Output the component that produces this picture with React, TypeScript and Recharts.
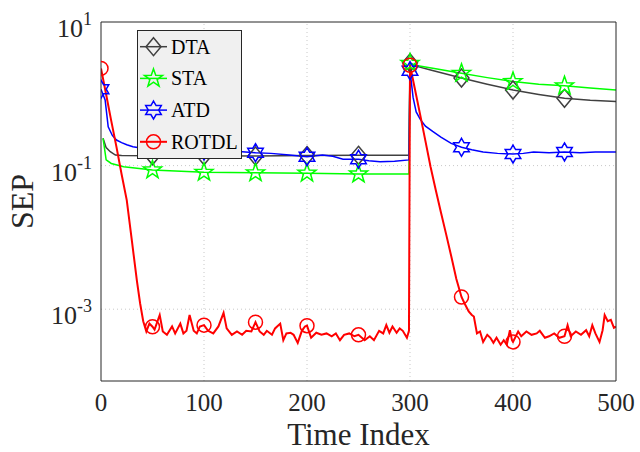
import React from 'react';
import { LineChart, Line, XAxis, YAxis, ReferenceLine, Legend } from 'recharts';

// [time index, SEP]
const dta: [number, number][] = [
  [2, 0.24], [5, 0.178], [9, 0.156], [14, 0.14], [20, 0.138], [50, 0.137], [100, 0.137],
  [150, 0.136], [200, 0.138], [250, 0.139], [299, 0.139],
  [300, 2.7], [305, 2.45], [320, 2.14], [350, 1.66], [375, 1.36], [400, 1.13], [425, 0.98],
  [450, 0.865], [475, 0.81], [500, 0.78],
];

const sta: [number, number][] = [
  [2, 0.24], [5, 0.12], [10, 0.107], [22, 0.0966], [50, 0.087], [100, 0.0807], [150, 0.0794],
  [200, 0.0785], [250, 0.0764], [299, 0.0764],
  [300, 2.66], [305, 2.5], [325, 2.24], [350, 1.93], [375, 1.68], [400, 1.48], [425, 1.36],
  [450, 1.29], [475, 1.2], [500, 1.13],
];

const atd: [number, number][] = [
  [0, 1.16], [4, 0.82], [7, 0.348], [11, 0.263], [15, 0.227], [20, 0.209], [25, 0.195],
  [31, 0.183], [40, 0.174], [50, 0.17], [60, 0.166], [80, 0.162], [100, 0.16], [120, 0.158],
  [137, 0.156], [150, 0.151], [165, 0.148], [183, 0.14], [200, 0.133], [215, 0.14],
  [225, 0.135], [235, 0.123], [250, 0.123], [260, 0.117], [271, 0.113], [285, 0.115],
  [299, 0.12],
  [300, 2.1], [303, 0.89], [306, 0.56], [310, 0.44], [315, 0.355], [322, 0.3], [330, 0.25],
  [340, 0.204], [350, 0.18], [360, 0.166], [371, 0.155], [385, 0.148], [400, 0.145],
  [410, 0.148], [420, 0.155], [435, 0.151], [450, 0.155], [465, 0.151], [480, 0.155],
  [500, 0.155],
];

const rotdl: [number, number][] = [
  [0, 2.26], [5, 0.977], [10, 0.417], [15, 0.182], [20, 0.0759], [25, 0.0331], [30, 0.00891],
  [35, 0.0024], [38, 0.0012], [41, 6.8e-4], [44, 4.9e-4], [47, 6.3e-4], [50, 5.7e-4],
  [52, 5.2e-4], [57, 8.3e-4], [60, 4.9e-4], [64, 4.4e-4], [69, 5.75e-4], [72, 4.6e-4],
  [77, 6.3e-4], [80, 4.6e-4], [83, 5.0e-4], [86, 8.3e-4], [90, 5.0e-4], [93, 4.6e-4],
  [96, 5.75e-4], [100, 6.0e-4], [104, 5.0e-4], [109, 4.6e-4], [114, 5.75e-4], [119, 8.9e-4],
  [122, 5.4e-4], [127, 4.4e-4], [132, 4.9e-4], [137, 4.4e-4], [141, 5.0e-4], [146, 4.9e-4],
  [150, 6.6e-4], [154, 4.9e-4], [158, 4.4e-4], [161, 5.0e-4], [166, 4.4e-4], [169, 5.4e-4],
  [174, 6.3e-4], [177, 3.7e-4], [180, 4.6e-4], [184, 4.7e-4], [187, 4.4e-4], [191, 3.4e-4],
  [195, 5.0e-4], [198, 5.75e-4], [200, 5.9e-4], [204, 4.0e-4], [209, 4.7e-4], [214, 4.4e-4],
  [219, 4.6e-4], [224, 4.2e-4], [228, 4.6e-4], [232, 3.7e-4], [236, 4.4e-4], [241, 4.6e-4],
  [246, 4.2e-4], [250, 4.4e-4], [256, 3.7e-4], [261, 4.2e-4], [265, 3.7e-4], [270, 5.0e-4],
  [274, 4.6e-4], [277, 6.0e-4], [280, 4.7e-4], [283, 5.75e-4], [287, 4.7e-4], [290, 5.4e-4],
  [293, 5.0e-4], [297, 4.0e-4], [299, 5.0e-4],
  [300, 2.5], [305, 1.12], [310, 0.5], [315, 0.219], [320, 0.0955], [325, 0.0457],
  [330, 0.0224], [335, 0.0112], [340, 0.0055], [345, 0.00263], [350, 0.00148], [353, 0.0012],
  [357, 9.3e-4], [360, 8.3e-4], [362, 7.9e-4], [365, 4.6e-4], [368, 4.9e-4], [371, 3.5e-4],
  [375, 4.4e-4], [378, 4.0e-4], [381, 3.4e-4], [384, 4.0e-4], [388, 3.2e-4], [391, 3.7e-4],
  [394, 3.2e-4], [397, 5.1e-4], [399, 3.7e-4], [400, 3.5e-4], [405, 4.9e-4], [408, 4.2e-4],
  [413, 4.9e-4], [418, 4.4e-4], [423, 4.6e-4], [426, 5.0e-4], [431, 4.0e-4], [435, 4.2e-4],
  [440, 4.6e-4], [445, 4.0e-4], [450, 4.2e-4], [453, 6.0e-4], [456, 4.2e-4], [461, 4.9e-4],
  [466, 4.4e-4], [471, 5.1e-4], [474, 4.2e-4], [477, 6.0e-4], [480, 4.6e-4], [484, 3.5e-4],
  [487, 5.1e-4], [489, 8.3e-4], [492, 6.8e-4], [495, 7.1e-4], [498, 5.5e-4], [500, 5.7e-4],
];

const xTicks = [0, 100, 200, 300, 400, 500];
const xGrid = [100, 200, 300, 400];
const yLabelTicks = [10, 0.1, 0.001];
const yGrid = [0.1, 0.001];
const decades = [1e-4, 1e-3, 1e-2, 1e-1, 1];
const yAllTicks = [...decades.flatMap((d) => [1, 2, 3, 4, 5, 6, 7, 8, 9].map((k) => k * d)), 10];

const AXIS = '#262626';
const SERIF = "'Liberation Serif', 'Times New Roman', serif";
// no courier-like face is available, a serif face comes closest to the typewriter legend
const LEGEND_FONT = "'Liberation Serif', serif";

type Shape = 'diamond' | 'pentagram' | 'hexagram' | 'circle';

const series: { name: string; color: string; shape: Shape; width: number; data: [number, number][] }[] = [
  { name: 'DTA', color: '#404040', shape: 'diamond', width: 1.5, data: dta },
  { name: 'STA', color: '#00ff00', shape: 'pentagram', width: 1.5, data: sta },
  { name: 'ATD', color: '#0000ff', shape: 'hexagram', width: 1.5, data: atd },
  { name: 'ROTDL', color: '#ff0000', shape: 'circle', width: 2, data: rotdl },
];

const starPoints = (cx: number, cy: number, n: number, R: number, r: number) => {
  const pts: string[] = [];
  for (let i = 0; i < 2 * n; i++) {
    const rad = i % 2 === 0 ? R : r;
    const a = -Math.PI / 2 + (i * Math.PI) / n;
    pts.push(`${cx + rad * Math.cos(a)},${cy + rad * Math.sin(a)}`);
  }
  return pts.join(' ');
};

const Marker = ({ cx, cy, shape, color }: { cx: number; cy: number; shape: Shape; color: string }) => {
  const st = { fill: 'none', stroke: color, strokeWidth: 1.5 };
  if (shape === 'circle') return <circle cx={cx} cy={cy} r={7} {...st} />;
  if (shape === 'diamond')
    return <polygon points={`${cx},${cy - 9} ${cx + 7.5},${cy} ${cx},${cy + 9} ${cx - 7.5},${cy}`} {...st} />;
  if (shape === 'pentagram') return <polygon points={starPoints(cx, cy, 5, 9.5, 3.8)} {...st} />;
  return <polygon points={starPoints(cx, cy, 6, 9, 5.2)} {...st} />;
};

const YTick = ({ x, y, payload }: any) => {
  const e = Math.round(Math.log10(payload.value));
  return (
    <text x={x} y={y + 15} textAnchor="end" fill={AXIS} fontFamily={SERIF}>
      <tspan fontSize={26}>10</tspan>
      <tspan fontSize={18} dy={-12}>{e}</tspan>
    </text>
  );
};

const XTick = ({ x, y, payload }: any) => (
  <text x={x} y={y + 30} textAnchor="middle" fill={AXIS} fontFamily={SERIF} fontSize={25}>
    {payload.value}
  </text>
);

const LegendBox = () => (
  <svg width={105} height={129} style={{ display: 'block' }}>
    <rect x={0.5} y={0.5} width={104} height={128} fill="#f0f0f0" stroke={AXIS} strokeWidth={1} />
    {series.map((s, i) => {
      const cy = 16.7 + i * 31.7;
      return (
        <g key={s.name}>
          <line x1={3} x2={30} y1={cy} y2={cy} stroke={s.color} strokeWidth={s.width} />
          <Marker cx={16.5} cy={cy} shape={s.shape} color={s.color} />
          <text x={34} y={cy + 7} fontFamily={LEGEND_FONT} fontSize={20} fill="#000">
            {s.name}
          </text>
        </g>
      );
    })}
  </svg>
);

export default function App() {
  return (
    <div style={{ position: 'absolute', left: 0, top: 0, width: 640, height: 452, background: '#fff' }}>
      <LineChart width={640} height={452} margin={{ top: 22, right: 24, bottom: 0, left: 0 }}>
        <XAxis
          xAxisId="lbl"
          type="number"
          dataKey="x"
          domain={[0, 500]}
          ticks={xTicks}
          allowDataOverflow
          height={71}
          tickSize={0}
          tickMargin={0}
          tickLine={false}
          axisLine={false}
          tick={<XTick />}
          label={{
            content: ({ viewBox }: any) => (
              <text
                x={viewBox.x + viewBox.width / 2}
                y={viewBox.y + 64}
                textAnchor="middle"
                fill={AXIS}
                fontFamily={SERIF}
                fontSize={31}
              >
                Time Index
              </text>
            ),
          }}
        />
        <XAxis
          xAxisId="main"
          type="number"
          dataKey="x"
          domain={[0, 500]}
          ticks={xTicks}
          allowDataOverflow
          mirror
          tick={false}
          tickSize={4}
          stroke={AXIS}
        />
        <XAxis
          xAxisId="top"
          orientation="top"
          type="number"
          domain={[0, 500]}
          ticks={xTicks}
          allowDataOverflow
          mirror
          tick={false}
          tickSize={4}
          stroke={AXIS}
        />
        <YAxis
          yAxisId="lbl"
          type="number"
          scale="log"
          domain={[1e-4, 10]}
          ticks={yLabelTicks}
          allowDataOverflow
          width={101}
          tickSize={0}
          tickMargin={9}
          tickLine={false}
          axisLine={false}
          tick={<YTick />}
          label={{
            content: ({ viewBox }: any) => {
              const cx = viewBox.x + 33;
              const cy = viewBox.y + viewBox.height / 2;
              return (
                <text
                  x={cx}
                  y={cy}
                  transform={`rotate(-90 ${cx} ${cy})`}
                  textAnchor="middle"
                  fill={AXIS}
                  fontFamily={SERIF}
                  fontSize={32}
                >
                  SEP
                </text>
              );
            },
          }}
        />
        <YAxis
          yAxisId="main"
          type="number"
          scale="log"
          domain={[1e-4, 10]}
          ticks={yAllTicks}
          allowDataOverflow
          mirror
          tick={false}
          tickSize={4}
          stroke={AXIS}
        />
        <YAxis
          yAxisId="right"
          orientation="right"
          type="number"
          scale="log"
          domain={[1e-4, 10]}
          ticks={yAllTicks}
          allowDataOverflow
          mirror
          tick={false}
          tickSize={4}
          stroke={AXIS}
        />
        {xGrid.map((v) => (
          <ReferenceLine key={`gx${v}`} x={v} xAxisId="main" yAxisId="main" stroke="#c8c8c8" strokeDasharray="1 3" />
        ))}
        {yGrid.map((v) => (
          <ReferenceLine key={`gy${v}`} y={v} xAxisId="main" yAxisId="main" stroke="#c8c8c8" strokeDasharray="1 3" />
        ))}
        {series.map((s) => (
          <Line
            key={s.name}
            xAxisId="main"
            yAxisId="main"
            name={s.name}
            data={s.data.map(([x, y]) => ({ x, y }))}
            dataKey="y"
            type="linear"
            stroke={s.color}
            strokeWidth={s.width}
            activeDot={false}
            isAnimationActive={false}
            dot={(p: any) =>
              p.payload.x % 50 === 0 && p.payload.x < 500 ? (
                <Marker key={p.index} cx={p.cx} cy={p.cy} shape={s.shape} color={s.color} />
              ) : (
                <g key={p.index} />
              )
            }
          />
        ))}
        <Legend
          layout="vertical"
          align="center"
          verticalAlign="middle"
          content={<LegendBox />}
          wrapperStyle={{ left: 137, top: 30, width: 'auto', height: 'auto' }}
        />
      </LineChart>
    </div>
  );
}
